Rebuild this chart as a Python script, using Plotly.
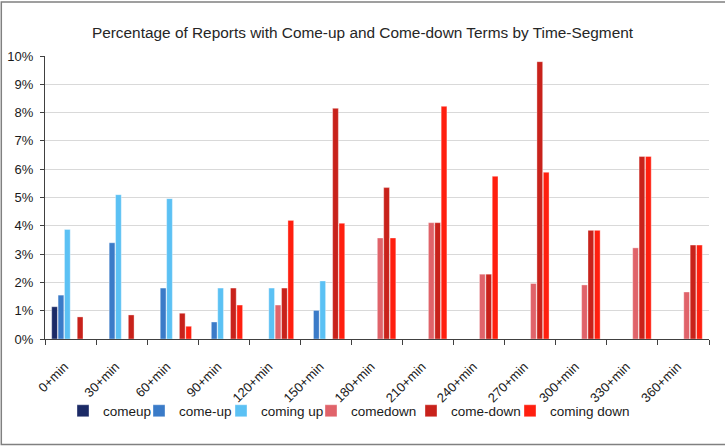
import plotly.graph_objects as go

categories = ["0+min", "30+min", "60+min", "90+min", "120+min", "150+min", "180+min",
              "210+min", "240+min", "270+min", "300+min", "330+min", "360+min"]

comeup = [1.14, 0, 0, 0, 0, 0, 0, 0, 0, 0, 0, 0, 0]
come_up = [1.55, 3.40, 1.80, 0.60, 0, 1.01, 0, 0, 0, 0, 0, 0, 0]
coming_up = [3.87, 5.10, 4.96, 1.80, 1.80, 2.05, 0, 0, 0, 0, 0, 0, 0]
comedown = [0, 0, 0, 0, 1.20, 0, 3.57, 4.11, 2.29, 1.96, 1.91, 3.22, 1.66]
come_down = [0.78, 0.85, 0.91, 1.80, 1.80, 8.15, 5.35, 4.11, 2.29, 9.80, 3.84, 6.45, 3.32]
coming_down = [0, 0, 0.45, 1.20, 4.19, 4.09, 3.57, 8.22, 5.75, 5.89, 3.84, 6.45, 3.32]

series = [
    ("comeup", comeup, "#1b2a66"),
    ("come-up", come_up, "#3a7bc8"),
    ("coming up", coming_up, "#5bc1f4"),
    ("comedown", comedown, "#e0636a"),
    ("come-down", come_down, "#c8221b"),
    ("coming down", coming_down, "#ff1f0f"),
]
legend_text_x = [103, 179, 261, 351, 451, 550]

fig = go.Figure()
for i, (name, vals, color) in enumerate(series):
    lg = "legend" if i == 0 else f"legend{i+1}"
    fig.add_trace(go.Bar(
        name=name, x=categories, y=[v / 100 for v in vals],
        marker=dict(color=color, line=dict(color="rgba(255,255,255,0.6)", width=0.6)),
        legend=lg,
    ))

W, H = 725, 447
layout_legends = {}
for i, (name, vals, color) in enumerate(series):
    key = "legend" if i == 0 else f"legend{i+1}"
    layout_legends[key] = dict(
        xref="container", yref="container",
        x=(legend_text_x[i] - 40) / W, xanchor="left",
        y=1 - 411 / H, yanchor="middle",
        orientation="h", bgcolor="rgba(0,0,0,0)",
        font=dict(size=13.5, color="#1a1a1a", family="Liberation Sans, Arial, sans-serif"),
        itemclick=False, itemwidth=30,
    )

fig.update_layout(
    width=W, height=H,
    margin=dict(l=45, r=16, t=56, b=108, autoexpand=False),
    paper_bgcolor="white", plot_bgcolor="white",
    font=dict(family="Liberation Sans, Arial, sans-serif", size=13, color="#1a1a1a"),
    title=dict(text="Percentage of Reports with Come-up and Come-down Terms by Time-Segment",
               x=0.5, xref="container", xanchor="center",
               y=1 - 33 / H, yref="container", yanchor="middle",
               font=dict(size=15.4, color="#262626")),
    barmode="group", bargap=0.25, bargroupgap=0.1,
    xaxis=dict(type="category", tickson="boundaries", ticks="outside", ticklen=5,
               tickcolor="#404040", showline=True, linecolor="#404040", linewidth=1,
               tickangle=-45, tickfont=dict(size=13), showgrid=False, automargin=False,
               ticklabelstandoff=14, ticklabelshift=-6),
    yaxis=dict(range=[0, 0.1], dtick=0.01, tickformat=".0%", ticks="outside", ticklen=4,
               tickcolor="#404040", showline=True, linecolor="#404040", linewidth=1,
               gridcolor="#d9d9d9", gridwidth=1, zeroline=False, tickfont=dict(size=13),
               automargin=False, ticklabelstandoff=4),
    showlegend=True,
    shapes=[dict(type="rect", xref="paper", yref="paper",
                 x0=(1.5 - 45) / 661, x1=(723.5 - 45) / 661,
                 y0=(339 - 444.5) / 283, y1=(339 - 2) / 283,
                 line=dict(color="#808080", width=1.5), fillcolor="rgba(0,0,0,0)",
                 layer="above")],
    **layout_legends,
)

fig.write_html("out.html", config={"displayModeBar": False},
               post_script="document.body.style.margin='0';document.body.style.overflow='hidden';")
